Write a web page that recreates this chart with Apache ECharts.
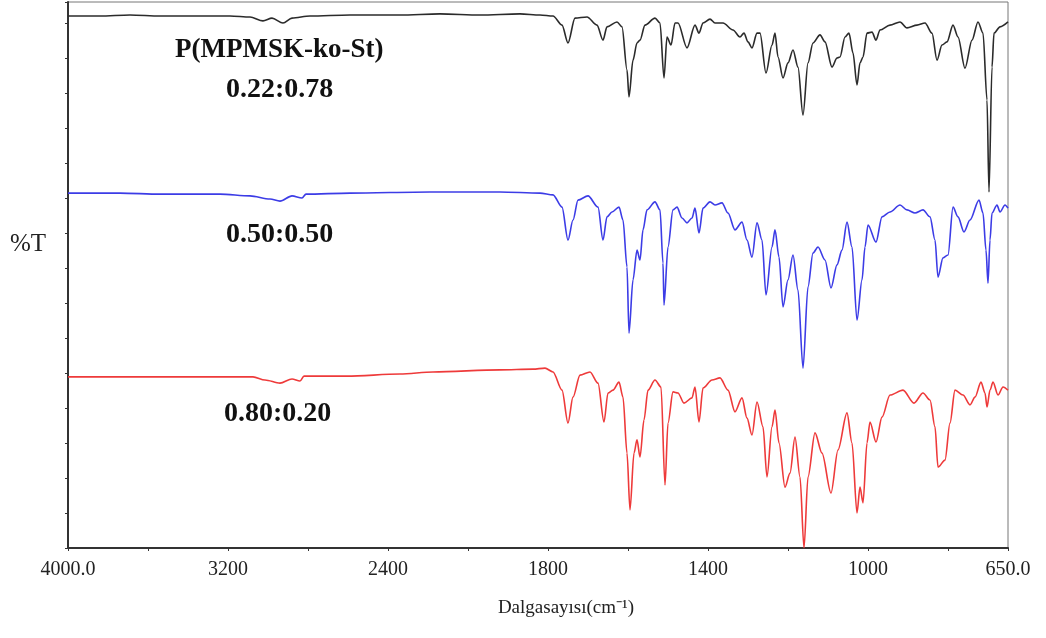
<!DOCTYPE html>
<html>
<head>
<meta charset="utf-8">
<script src="https://cdn.jsdelivr.net/npm/echarts@6.0.0/dist/echarts.min.js"></script>
<style>
  html, body { margin: 0; padding: 0; background: #fff; }
  #ftir { width: 1046px; height: 638px; }
</style>
</head>
<body>
<div id="ftir"></div>
<script>
// wavenumber (cm-1) and %T readings, one pair of arrays per spectrum
var wnBlack = [4000, 3840, 3690, 3540, 3340, 3190, 3090, 3025, 2980, 2925, 2880, 2790, 2590, 2340, 2140, 1970, 1870, 1820,
  1787.5, 1765, 1750, 1732.5, 1702.5, 1677.5, 1662.5, 1652.5, 1627.5, 1615, 1602.5, 1597.5, 1587.5, 1577.5, 1570, 1557.5,
  1532.5, 1520, 1510, 1502.5, 1492.5, 1482.5, 1475, 1452.5, 1432.5, 1422.5, 1412.5, 1395, 1382.5, 1362.5, 1337.5, 1320,
  1310, 1300, 1290, 1277.5, 1270, 1255, 1240, 1232.5, 1225, 1212.5, 1200, 1187.5, 1175, 1162.5, 1150, 1137.5, 1120,
  1107.5, 1090, 1077.5, 1070, 1057.5, 1047.5, 1037.5, 1027.5, 1020, 1012.5, 1002.5, 990, 980, 970, 945, 920, 902.5,
  877.5, 857.5, 840, 827.5, 815, 802.5, 787.5, 775, 757.5, 740, 725, 712.5, 702.5, 697.5, 690, 685, 670, 650];
var tBlack = [152.0, 152.0, 152.3, 152.0, 152.0, 152.0, 151.7, 150.6, 151.4, 150.0, 151.4, 152.0, 152.3, 152.3, 152.6, 152.3, 152.6, 152.3,
  152.0, 149.4, 144.3, 151.4, 151.7, 149.4, 145.1, 148.9, 150.3, 148.9, 136.6, 128.9, 139.4, 144.3, 145.1, 149.4,
  151.4, 150.0, 134.3, 146.0, 143.7, 150.0, 150.0, 142.9, 149.4, 147.1, 150.0, 151.1, 150.0, 150.0, 148.0, 146.0,
  147.1, 144.6, 142.9, 147.1, 147.1, 135.7, 143.7, 147.1, 140.3, 134.3, 138.6, 142.3, 137.4, 123.7, 138.6, 144.3, 146.6,
  144.6, 137.4, 140.0, 140.3, 146.0, 147.1, 141.4, 132.3, 138.6, 140.3, 147.1, 147.4, 145.1, 148.0, 149.4, 150.3, 148.6,
  149.4, 150.0, 147.1, 139.4, 143.7, 144.6, 149.4, 146.0, 137.1, 145.1, 150.3, 147.1, 128.0, 101.7, 137.4, 147.1, 148.9, 150.3];

var wnBlue = [4000, 3740, 3540, 3240, 3090, 2990, 2940, 2880, 2830, 2810, 2590, 2190, 1920, 1820,
  1787.5, 1765, 1750, 1737.5, 1725, 1700, 1675, 1662.5, 1652.5, 1640, 1622.5, 1612.5, 1602.5, 1597.5, 1587.5, 1577.5,
  1570, 1562.5, 1552.5, 1532.5, 1520, 1512.5, 1510, 1500, 1487.5, 1477.5, 1465, 1452.5, 1440, 1432.5, 1422.5, 1412.5,
  1395, 1382.5, 1365, 1350, 1332.5, 1315, 1302.5, 1290, 1277.5, 1265, 1255, 1240, 1232.5, 1222.5, 1212.5, 1200, 1187.5,
  1175, 1162.5, 1150, 1137.5, 1125, 1107.5, 1092.5, 1077.5, 1065, 1052.5, 1040, 1027.5, 1015, 1007.5, 1000, 980, 965,
  945, 920, 902.5, 882.5, 862.5, 845, 832.5, 825, 812.5, 800, 787.5, 775, 760, 745, 722.5, 712.5, 705, 700, 695, 690,
  677.5, 670, 657.5, 650];
var tBlue = [101.4, 101.4, 101.1, 101.1, 100.6, 99.7, 99.1, 100.6, 100.0, 101.1, 101.4, 101.7, 101.7, 101.4,
  100.9, 97.4, 88.0, 93.7, 99.4, 100.6, 97.4, 88.0, 94.6, 96.0, 97.4, 93.7, 80.3, 61.4, 76.6, 85.1,
  82.3, 90.9, 96.6, 98.9, 96.6, 81.4, 69.4, 86.0, 96.6, 97.4, 94.3, 92.9, 94.3, 97.1, 90.0, 97.1,
  98.9, 98.0, 98.6, 95.7, 90.9, 93.1, 88.0, 83.1, 92.9, 88.0, 72.3, 86.0, 90.9, 83.1, 68.9, 76.6, 83.7,
  73.7, 51.4, 74.6, 84.3, 86.0, 82.3, 74.3, 80.9, 85.1, 93.1, 86.0, 65.1, 76.6, 86.0, 92.3, 87.4, 94.6,
  96.0, 98.0, 96.6, 95.7, 96.6, 94.6, 88.0, 77.4, 82.9, 83.7, 97.4, 94.6, 90.3, 93.7, 99.4, 95.7, 85.1, 75.7, 88.0, 95.7,
  98.0, 96.0, 98.0, 97.1];

var wnRed = [4000, 3590, 3075, 3015, 2940, 2880, 2840, 2820, 2605, 2340, 2175, 1920, 1837.5, 1807.5,
  1787.5, 1765, 1750, 1737.5, 1720, 1695, 1675, 1660, 1650, 1637.5, 1622.5, 1612.5, 1602.5, 1595, 1585, 1577.5,
  1570, 1560, 1550, 1532.5, 1517.5, 1507.5, 1500, 1487.5, 1475, 1460, 1440, 1432.5, 1422.5, 1412.5, 1390, 1370,
  1350, 1332.5, 1315, 1302.5, 1290, 1277.5, 1262.5, 1252.5, 1240, 1232.5, 1222.5, 1207.5, 1195, 1182.5, 1170, 1160,
  1150, 1132.5, 1115, 1092.5, 1075, 1052.5, 1040, 1027.5, 1020, 1012.5, 1002.5, 995, 980, 965, 945, 912.5, 885, 862.5,
  845, 832.5, 825, 807.5, 795, 782.5, 762.5, 745, 732.5, 717.5, 707.5, 702.5, 695, 687.5, 675, 662.5, 650];
var tRed = [48.9, 48.9, 48.9, 48.0, 47.1, 48.3, 47.7, 49.1, 49.1, 49.7, 50.3, 50.9, 51.1, 51.4,
  50.3, 45.1, 35.7, 43.1, 49.4, 50.3, 47.1, 36.0, 44.3, 45.1, 47.4, 43.1, 27.1, 10.9, 27.1, 30.9,
  26.0, 36.6, 45.1, 48.0, 46.0, 18.0, 35.7, 44.6, 44.3, 41.4, 42.9, 46.0, 36.0, 45.7, 48.0, 48.6,
  45.1, 38.9, 42.9, 37.1, 32.3, 41.7, 34.6, 20.3, 34.6, 39.4, 30.0, 17.4, 21.4, 31.7, 20.3, 0.0,
  20.3, 32.9, 27.1, 15.7, 28.0, 38.6, 30.0, 10.0, 17.4, 12.9, 30.0, 36.0, 30.3, 37.4, 43.7, 45.1, 41.4, 44.3,
  42.3, 34.6, 23.1, 25.1, 35.7, 45.1, 43.7, 40.9, 43.1, 47.4, 44.3, 40.3, 45.1, 47.4, 43.7, 46.0, 45.1];

var labelWn = [4000, 3200, 2400, 1800, 1400, 1000, 650];
var tickWn = [4000, 3600, 3200, 2800, 2400, 2000, 1800, 1600, 1400, 1200, 1000, 800, 650];

// instrument x scale: 4000-2000 compressed, 2000-650 expanded x2
function toU(w) { return w >= 2000 ? 4000 - w : 2000 + 2 * (2000 - w); }
function fromU(u) { return u <= 2000 ? 4000 - u : 2000 - (u - 2000) / 2; }

function pairs(wn, t) {
  return wn.map(function (w, i) { return [toU(w), t[i]]; });
}

var chart = echarts.init(document.getElementById('ftir'), null, { renderer: 'canvas' });

var serif = '"Liberation Serif", "Times New Roman", serif';

var option = {
  animation: false,
  grid: {
    left: 68, right: 38, top: 2, bottom: 90,
    show: true, borderColor: '#777', borderWidth: 1
  },
  xAxis: {
    type: 'value',
    min: 0,
    max: toU(650),
    name: 'Dalgasayısı(cm⁻¹)',
    nameLocation: 'middle',
    nameGap: 51,
    nameTextStyle: { fontFamily: serif, fontSize: 19, color: '#222', padding: [0, 0, 0, 56] },
    axisLine: { lineStyle: { color: '#333', width: 2 } },
    axisTick: { show: true, length: 3, customValues: tickWn.map(toU), lineStyle: { color: '#333' } },
    axisLabel: {
      customValues: labelWn.map(toU),
      margin: 12,
      fontFamily: serif, fontSize: 20, color: '#222',
      formatter: function (u) {
        var w = Math.round(fromU(u));
        return (w === 4000 || w === 650) ? w.toFixed(1) : String(w);
      }
    },
    splitLine: { show: false }
  },
  yAxis: {
    type: 'value',
    min: 0,
    max: 156,
    interval: 10,
    axisLine: { show: true, lineStyle: { color: '#333', width: 2 } },
    axisTick: { show: true, length: 3, lineStyle: { color: '#333' } },
    axisLabel: { show: false },
    splitLine: { show: false }
  },
  graphic: [
    { type: 'text', left: 10, top: 232, style: { text: '%T', font: '25px ' + serif, fill: '#222' } },
    { type: 'text', left: 175, top: 37, style: { text: 'P(MPMSK-ko-St)', font: 'bold 27px ' + serif, fill: '#111' } },
    { type: 'text', left: 226, top: 76, style: { text: '0.22:0.78', font: 'bold 28px ' + serif, fill: '#111' } },
    { type: 'text', left: 226, top: 221, style: { text: '0.50:0.50', font: 'bold 28px ' + serif, fill: '#111' } },
    { type: 'text', left: 224, top: 400, style: { text: '0.80:0.20', font: 'bold 28px ' + serif, fill: '#111' } }
  ],
  series: [
    {
      name: '0.22:0.78', type: 'line', showSymbol: false, smooth: 0.3, smoothMonotone: 'x',
      lineStyle: { color: '#2b2b2b', width: 1.6 }, data: pairs(wnBlack, tBlack)
    },
    {
      name: '0.50:0.50', type: 'line', showSymbol: false, smooth: 0.3, smoothMonotone: 'x',
      lineStyle: { color: '#3c3ce6', width: 1.6 }, data: pairs(wnBlue, tBlue)
    },
    {
      name: '0.80:0.20', type: 'line', showSymbol: false, smooth: 0.3, smoothMonotone: 'x',
      lineStyle: { color: '#ee3a3a', width: 1.6 }, data: pairs(wnRed, tRed)
    }
  ]
};

chart.setOption(option);
window.addEventListener('resize', chart.resize);
</script>
</body>
</html>
